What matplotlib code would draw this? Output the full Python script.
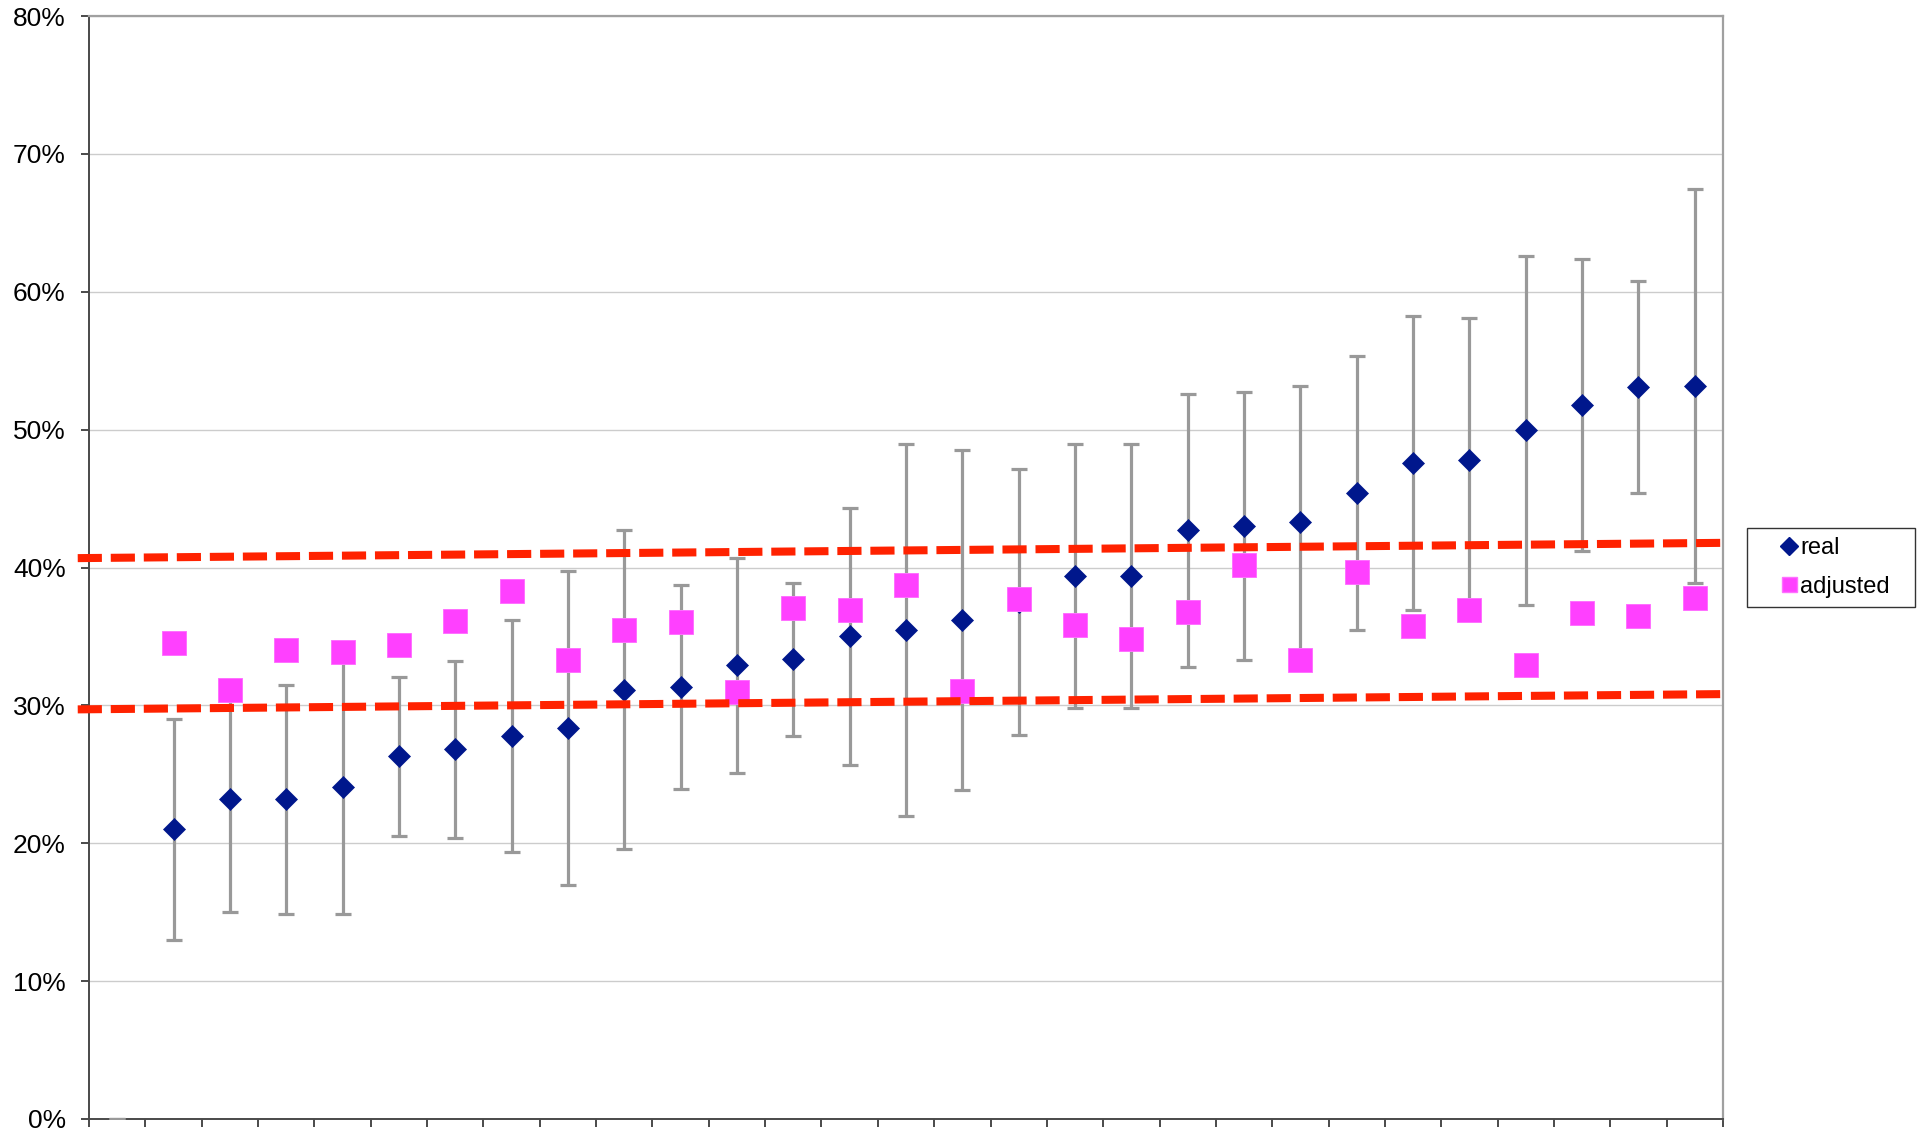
import numpy as np
import matplotlib
matplotlib.use("Agg")
import matplotlib.pyplot as plt
from matplotlib.lines import Line2D
from matplotlib.legend_handler import HandlerLine2D
from matplotlib.ticker import FuncFormatter

plt.rcParams['font.family'] = ['Liberation Sans', 'DejaVu Sans']

# 29 categories; the first one is empty
categories = list(range(29))

real = [np.nan, 21.0, 23.2, 23.2, 24.1, 26.3, 26.8, 27.8, 28.35, 31.15,
        31.35, 32.9, 33.35, 35.0, 35.45, 36.2, 37.5, 39.38, 39.38, 42.7,
        43.0, 43.3, 45.4, 47.57, 47.79, 49.96, 51.79, 53.08, 53.16]

real_err = [0.0, 8.0, 8.2, 8.3, 9.2, 5.75, 6.45, 8.4, 11.4, 11.6,
            7.4, 7.8, 5.55, 9.35, 13.5, 12.35, 9.65, 9.6, 9.6, 9.9,
            9.7, 9.9, 9.95, 10.65, 10.3, 12.65, 10.6, 7.7, 14.3]

adjusted = [np.nan, 34.5, 31.1, 34.0, 33.9, 34.35, 36.1, 38.3, 33.3, 35.5,
            36.05, 31.0, 37.05, 36.9, 38.75, 31.05, 37.7, 35.85, 34.85, 36.8,
            40.2, 33.3, 39.65, 35.77, 36.9, 32.9, 36.7, 36.5, 37.8]

# reference band drawn across the chart
band_x = [-0.7, 28.55]
band_upper = [40.68, 41.79]
band_lower = [29.71, 30.82]

y_ticks = [0, 10, 20, 30, 40, 50, 60, 70, 80]

x = np.array(categories, dtype=float)
real_a = np.array(real)
adj_a = np.array(adjusted)
err_a = np.array(real_err)

W, H = 1921, 1133
fig = plt.figure(figsize=(W / 100, H / 100), dpi=100)
ax = fig.add_axes([89 / W, 1 - 1119 / H, (1723 - 89) / W, (1119 - 16) / H])

# error bars (an empty cell counts as zero for the bar)
ax.errorbar(x, np.nan_to_num(real_a), yerr=err_a, fmt='none',
            ecolor='#999999', elinewidth=2.3, capsize=5.8, capthick=2.3, zorder=3)

ax.plot(x, real_a, linestyle='none', marker='D', markersize=10.7,
        markerfacecolor='#00178c', markeredgecolor='#00178c', markeredgewidth=0.5,
        zorder=4, label='real')
ax.plot(x, adj_a, linestyle='none', marker='s', markersize=17,
        markerfacecolor='#ff40ff', markeredgecolor='#ff70ff', markeredgewidth=0.7,
        zorder=5, label='adjusted')

for band in (band_upper, band_lower):
    ax.plot(band_x, band, color='#ff2200', linewidth=5.8, dashes=(3, 1.1),
            dash_capstyle='butt', solid_capstyle='butt', clip_on=False, zorder=6)

ax.set_xlim(-0.5, 28.5)
ax.set_ylim(0, 80)
ax.set_yticks(y_ticks)
ax.yaxis.set_major_formatter(FuncFormatter(lambda v, p: f"{v:.0f}%"))
ax.set_xticks(np.arange(-0.5, 29.0, 1.0))
ax.set_xticklabels([])

ax.grid(axis='y', color='#cccccc', linewidth=1.0, zorder=0)
ax.set_axisbelow(True)

for side in ('top', 'right'):
    ax.spines[side].set_color('#a0a0a0')
    ax.spines[side].set_linewidth(1.6)
for side in ('left', 'bottom'):
    ax.spines[side].set_color('#4a4a4a')
    ax.spines[side].set_linewidth(1.4)

ax.tick_params(axis='both', direction='out', length=5.8, width=1.4, color='#4a4a4a')
ax.tick_params(axis='y', labelsize=19, pad=11, labelcolor='black')

handles = [
    Line2D([], [], linestyle='none', marker='D', markersize=9.2,
           markerfacecolor='#00178c', markeredgecolor='#00178c'),
    Line2D([], [], linestyle='none', marker='s', markersize=10.8,
           markerfacecolor='#ff40ff', markeredgecolor='#ff70ff'),
]
shift = HandlerLine2D(xpad=1.0)
leg = fig.legend(handles, ['real', 'adjusted'], loc='upper left',
                 bbox_to_anchor=(1747 / W, 1 - 606 / H, (1915 - 1747) / W, 78 / H),
                 mode='expand', fontsize=17, frameon=True, fancybox=False, shadow=False,
                 handlelength=1.76, handletextpad=0.09, labelspacing=0.68,
                 borderpad=0.4, borderaxespad=0.0,
                 handler_map={h: shift for h in handles})
leg.get_frame().set_edgecolor('#333333')
leg.get_frame().set_linewidth(1.0)
leg.get_frame().set_facecolor('white')
leg.get_frame().set_alpha(1.0)

fig.savefig('out.png', dpi=100, facecolor='white')
